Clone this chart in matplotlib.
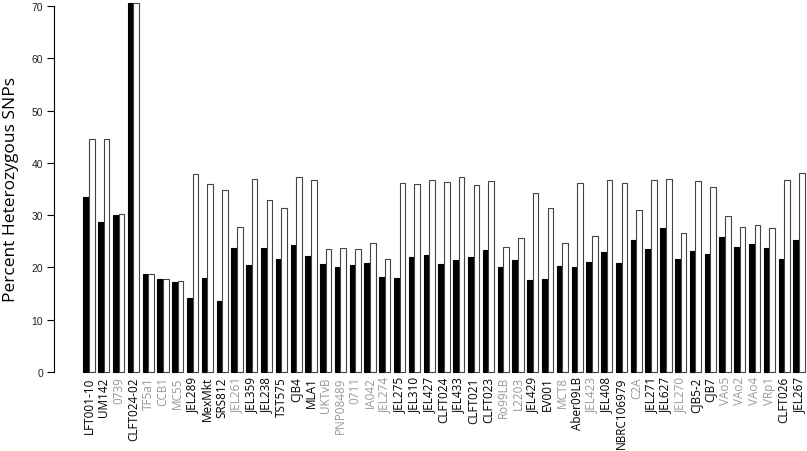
import matplotlib.pyplot as plt
import numpy as np

# strains, in plot order
strains = ["LFT001-10", "UM142", "0739", "CLFT024-02", "TF5a1", "CCB1", "MC55",
           "JEL289", "MexMkt", "SRS812", "JEL261", "JEL359", "JEL238", "TST575",
           "CJB4", "MLA1", "UKTvB", "PNP08489", "0711", "IA042", "JEL274",
           "JEL275", "JEL310", "JEL427", "CLFT024", "JEL433", "CLFT021", "CLFT023",
           "Ro99LB", "L2203", "JEL429", "EV001", "MCT8", "Aber09LB", "JEL423",
           "JEL408", "NBRC106979", "C2A", "JEL271", "JEL627", "JEL270", "CJB5-2",
           "CJB7", "VAo5", "VAo2", "VAo4", "VRp1", "CLFT026", "JEL267"]

# strains whose labels are drawn in grey
grey_strains = ["0739", "TF5a1", "CCB1", "MC55", "JEL261", "UKTvB", "PNP08489",
                "0711", "IA042", "JEL274", "Ro99LB", "L2203", "MCT8", "JEL423",
                "C2A", "JEL270", "VAo5", "VAo2", "VAo4", "VRp1"]

# black bars
het_black = [33.4, 28.6, 30.1, 70.5, 18.7, 17.8, 17.3, 14.1, 18.0, 13.6,
             23.8, 20.5, 23.7, 21.6, 24.3, 22.1, 20.6, 20.1, 20.5, 20.9,
             18.2, 18.0, 22.0, 22.4, 20.6, 21.5, 21.9, 23.4, 20.0, 21.5,
             17.6, 17.8, 20.3, 20.0, 21.0, 23.0, 20.8, 25.3, 23.5, 27.5,
             21.7, 23.1, 22.6, 25.8, 23.9, 24.5, 23.7, 21.6, 25.2]

# white bars
het_white = [44.5, 44.5, 30.2, 70.5, 18.8, 17.8, 17.4, 37.9, 35.9, 34.9,
             27.7, 37.0, 32.9, 31.3, 37.3, 36.7, 23.5, 23.7, 23.6, 24.7,
             21.6, 36.1, 35.9, 36.7, 36.3, 37.3, 35.8, 36.6, 24.0, 25.6,
             34.2, 31.4, 24.6, 36.1, 26.1, 36.8, 36.1, 30.9, 36.7, 37.0,
             26.6, 36.5, 35.3, 29.8, 27.7, 28.2, 27.5, 36.7, 38.0]

fig = plt.figure(figsize=(8.07, 4.52), dpi=100)
ax = fig.add_axes([54 / 807, 1 - 373 / 452, 1 - 54 / 807, (373 - 7) / 452])

x = np.arange(len(strains))
w = 0.38
ax.bar(x - w / 2, het_black, width=w, color="black", edgecolor="black",
       linewidth=0.8, clip_on=False)
ax.bar(x + w / 2, het_white, width=w, color="white", edgecolor="#444444",
       linewidth=0.8, clip_on=False)

ax.set_xlim(-2.37, len(strains) - 0.46)
ax.set_ylim(0, 70)

for s in ["top", "right", "bottom"]:
    ax.spines[s].set_visible(False)
ax.spines["left"].set_bounds(0, 70)
ax.spines["left"].set_linewidth(0.8)

ax.set_yticks(range(0, 71, 10))
ax.tick_params(axis="y", length=5, width=0.8, pad=3, labelsize=7.5, labelcolor="#222222")
for t in ax.get_yticklabels():
    t.set_fontfamily("Liberation Sans")

ax.set_xticks(x)
ax.set_xticklabels(strains, rotation=90, fontsize=8.5, fontfamily="Open Sans")
ax.tick_params(axis="x", length=0, pad=3)
for t in ax.get_xticklabels():
    t.set_color("#999999" if t.get_text() in grey_strains else "black")

ax.set_ylabel("Percent Heterozygous SNPs", fontsize=12.5, fontfamily="Open Sans", labelpad=9)

plt.savefig("out.png", dpi=100)
